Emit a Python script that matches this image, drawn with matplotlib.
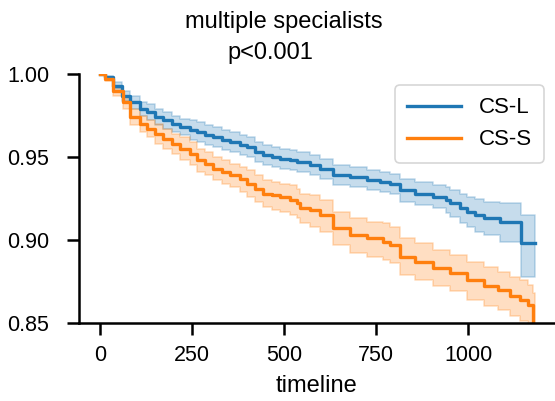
import matplotlib
matplotlib.use("Agg")
import matplotlib.pyplot as plt

plt.rcParams['font.family'] = ['Liberation Sans', 'DejaVu Sans']

# survival curves (time in days)
cs_l_time = [0, 14, 35, 60, 82, 109, 128, 149, 171, 196, 217, 245, 264, 285, 307, 332, 353, 380, 399, 421,
             443, 467, 489, 516, 535, 571, 598, 633, 679, 726, 761, 788, 815, 856, 905, 938, 951, 978, 997, 1019,
             1041, 1087, 1144, 1182]
cs_l_surv = [1.000, 0.998, 0.993, 0.987, 0.983, 0.979, 0.977, 0.974, 0.972, 0.970, 0.968, 0.966, 0.965, 0.963,
             0.962, 0.960, 0.959, 0.957, 0.956, 0.953, 0.951, 0.950, 0.949, 0.948, 0.947, 0.945, 0.943, 0.939,
             0.938, 0.936, 0.935, 0.934, 0.930, 0.928, 0.926, 0.924, 0.922, 0.919, 0.917, 0.915, 0.913, 0.911,
             0.898, 0.898]
cs_l_lower = [1.000, 0.997, 0.991, 0.984, 0.979, 0.975, 0.972, 0.969, 0.967, 0.965, 0.963, 0.960, 0.959, 0.957,
              0.956, 0.954, 0.953, 0.951, 0.950, 0.947, 0.945, 0.944, 0.943, 0.942, 0.941, 0.939, 0.937, 0.933,
              0.932, 0.930, 0.929, 0.928, 0.923, 0.921, 0.919, 0.916, 0.914, 0.910, 0.908, 0.905, 0.903, 0.899,
              0.878, 0.878]
cs_l_upper = [1.000, 0.999, 0.995, 0.990, 0.987, 0.983, 0.982, 0.979, 0.977, 0.975, 0.973, 0.972, 0.971, 0.969,
              0.968, 0.966, 0.965, 0.963, 0.962, 0.959, 0.957, 0.956, 0.955, 0.954, 0.953, 0.951, 0.949, 0.945,
              0.944, 0.942, 0.941, 0.940, 0.937, 0.935, 0.933, 0.932, 0.930, 0.928, 0.926, 0.925, 0.923, 0.922,
              0.915, 0.915]

cs_s_time = [0, 14, 35, 63, 82, 109, 128, 149, 171, 196, 217, 245, 264, 285, 307, 332, 353, 380, 399, 421,
             443, 467, 489, 516, 535, 543, 571, 598, 633, 679, 726, 769, 788, 815, 856, 905, 951, 997, 1041, 1079,
             1114, 1141, 1163, 1174, 1180]
cs_s_surv = [1.000, 0.997, 0.990, 0.983, 0.974, 0.970, 0.967, 0.964, 0.961, 0.958, 0.955, 0.952, 0.948, 0.946,
             0.943, 0.941, 0.939, 0.937, 0.934, 0.931, 0.928, 0.927, 0.926, 0.924, 0.922, 0.919, 0.918, 0.915,
             0.907, 0.903, 0.901, 0.899, 0.897, 0.890, 0.887, 0.883, 0.880, 0.876, 0.872, 0.870, 0.866, 0.864,
             0.861, 0.840, 0.840]
cs_s_lower = [1.000, 0.996, 0.987, 0.979, 0.969, 0.965, 0.962, 0.958, 0.955, 0.952, 0.948, 0.945, 0.941, 0.939,
              0.936, 0.934, 0.932, 0.929, 0.926, 0.923, 0.920, 0.918, 0.917, 0.915, 0.913, 0.910, 0.908, 0.905,
              0.897, 0.892, 0.890, 0.888, 0.886, 0.879, 0.876, 0.872, 0.869, 0.864, 0.860, 0.858, 0.854, 0.851,
              0.848, 0.810, 0.810]
cs_s_upper = [1.000, 0.998, 0.993, 0.987, 0.979, 0.975, 0.972, 0.970, 0.967, 0.964, 0.962, 0.959, 0.955, 0.953,
              0.950, 0.948, 0.946, 0.944, 0.942, 0.939, 0.936, 0.935, 0.934, 0.933, 0.931, 0.928, 0.927, 0.924,
              0.917, 0.913, 0.911, 0.910, 0.908, 0.901, 0.898, 0.894, 0.891, 0.887, 0.884, 0.881, 0.878, 0.876,
              0.873, 0.868, 0.868]

groups = ['CS-L', 'CS-S']
colors = ['#1f77b4', '#ff7f0e']
xticks = [0, 250, 500, 750, 1000]
yticks = [0.85, 0.90, 0.95, 1.00]

fig = plt.figure(figsize=(5.55, 4.01), dpi=100)
ax = fig.add_axes([79 / 555, 78 / 401, 476 / 555, 249 / 401])

curves = [(cs_l_time, cs_l_surv, cs_l_lower, cs_l_upper),
          (cs_s_time, cs_s_surv, cs_s_lower, cs_s_upper)]
for (t, s, lo, hi), name, c in zip(curves, groups, colors):
    ax.fill_between(t, lo, hi, step='post', color=c, alpha=0.25, linewidth=1.2)
    ax.step(t, s, where='post', color=c, linewidth=2.4, label=name)

ax.set_xlim(-57, 1235)
ax.set_ylim(0.85, 1.00)
ax.set_xticks(xticks)
ax.set_yticks(yticks)
ax.set_yticklabels(['%.2f' % v for v in yticks])
ax.spines['top'].set_visible(False)
ax.spines['right'].set_visible(False)
for sp in ['left', 'bottom']:
    ax.spines[sp].set_linewidth(1.8)
ax.tick_params(axis='both', width=1.8, length=8.5, labelsize=15.5)
ax.tick_params(axis='x', pad=7)
ax.tick_params(axis='y', pad=13)
ax.set_xlabel('timeline', fontsize=17, labelpad=7)

leg = ax.legend(loc='upper right', fontsize=16, frameon=True, handlelength=2.4,
                handletextpad=0.8, borderpad=0.55)
leg.get_frame().set_edgecolor('#cccccc')
leg.get_frame().set_linewidth(1.2)

fig.text(284 / 555, 1 - 28 / 401, 'multiple specialists', ha='center', va='baseline', fontsize=17)
fig.text(270 / 555, 1 - 59 / 401, 'p<0.001', ha='center', va='baseline', fontsize=17)

fig.savefig('out.png', dpi=100)
